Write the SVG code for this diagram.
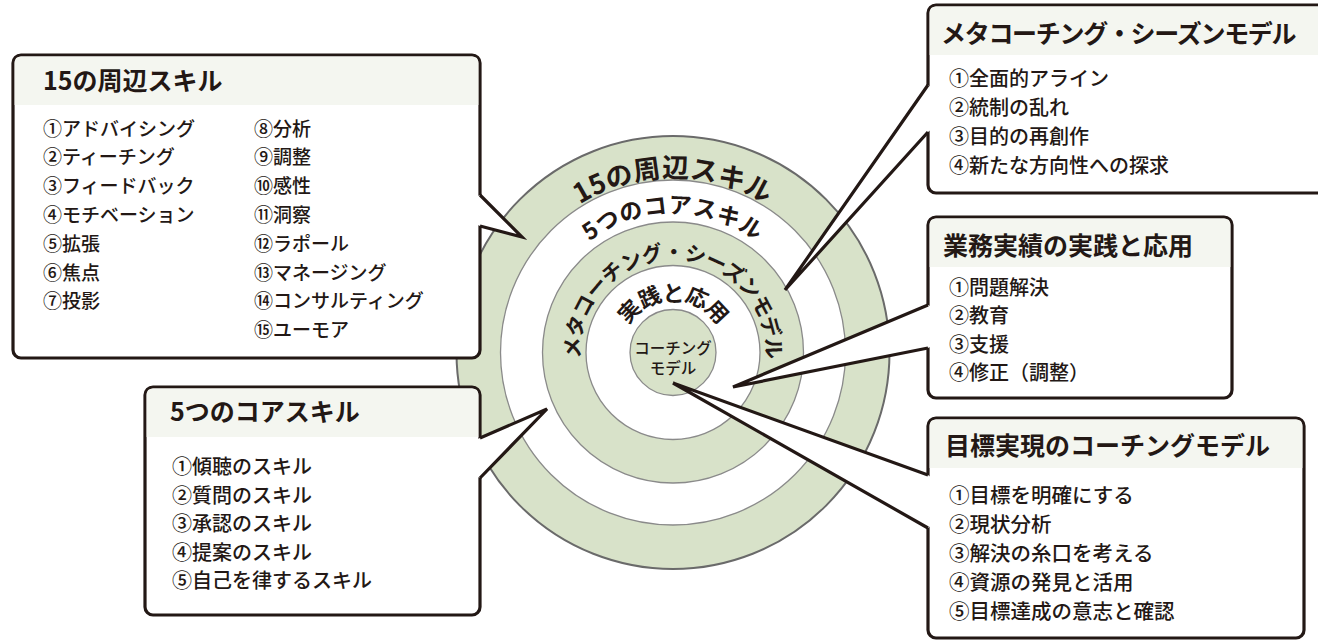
<svg xmlns="http://www.w3.org/2000/svg" xmlns:xlink="http://www.w3.org/1999/xlink" width="1318" height="641" viewBox="0 0 1318 641">
<style>
  .t { font-family: "Noto Sans CJK JP", "Noto Sans", sans-serif; fill: #231815; }
  .hd { font-size: 25px; font-weight: 700; }
  .it { font-size: 20px; font-weight: 500; }
  .ring { font-weight: 700; }
  .g { fill: #d8e2c9; stroke: #8a8a8a; stroke-width: 1.3; }
  .w { fill: #ffffff; stroke: #8a8a8a; stroke-width: 1.3; }
  .box { fill: #ffffff; stroke: #231815; stroke-width: 3.2; }
  .band { fill: #f4f6f0; }
  .tailfill { fill: #ffffff; stroke: none; }
  .tail { fill: none; stroke: #231815; stroke-width: 3.2; stroke-linejoin: miter; }
</style>
<defs>
  <path id="p1" d="M673,527.5 A175,175 0 0 1 673,177.5 A175,175 0 0 1 673,527.5"/>
  <path id="p2" d="M673,491.5 A139,139 0 0 1 673,213.5 A139,139 0 0 1 673,491.5"/>
  <path id="p3" d="M673,445.5 A93,93 0 0 1 673,259.5 A93,93 0 0 1 673,445.5"/>
  <path id="p4" d="M673,404.5 A52,52 0 0 1 673,300.5 A52,52 0 0 1 673,404.5"/>
</defs>
<rect width="1318" height="641" fill="#ffffff"/>

<g id="rings">
  <circle cx="673" cy="352.5" r="216.5" class="g" style="stroke:#6a6a6a;stroke-width:2"/>
  <circle cx="673" cy="352.5" r="172.5" class="w"/>
  <circle cx="673" cy="352.5" r="130.5" class="g"/>
  <circle cx="673" cy="352.5" r="87" class="w"/>
  <circle cx="673" cy="352.5" r="43" class="g"/>
  <text class="t ring" font-size="27" letter-spacing="0.3"><textPath href="#p1" xlink:href="#p1" startOffset="50%" text-anchor="middle">15の周辺スキル</textPath></text>
  <text class="t ring" font-size="23" letter-spacing="0.6"><textPath href="#p2" xlink:href="#p2" startOffset="50%" text-anchor="middle">5つのコアスキル</textPath></text>
  <text class="t ring" font-size="21" letter-spacing="-0.7"><textPath href="#p3" xlink:href="#p3" startOffset="50%" text-anchor="middle">メタコーチング・シーズンモデル</textPath></text>
  <text class="t ring" font-size="22" letter-spacing="-0.8"><textPath href="#p4" xlink:href="#p4" startOffset="50%" text-anchor="middle">実践と応用</textPath></text>
</g>

<g id="core">
  <text class="t" font-size="15.5" font-weight="500" x="673" y="354" text-anchor="middle">コーチング</text>
  <text class="t" font-size="15.5" font-weight="500" x="673" y="374" text-anchor="middle">モデル</text>
</g>

<g id="box-15skills">
  <rect x="13" y="55" width="467" height="303" rx="8" class="box"/>
  <path class="band" d="M14.6,105 V63 Q14.6,56.6 21,56.6 H472 Q478.4,56.6 478.4,63 V105 Z"/>
  <text class="t hd" x="43" y="90" font-size="26">15の周辺スキル</text>
  <g class="t" font-size="19" font-weight="500">
    <text x="43" y="135.5">①アドバイシング</text>
    <text x="43" y="164.3">②ティーチング</text>
    <text x="43" y="193.1">③フィードバック</text>
    <text x="43" y="221.9">④モチベーション</text>
    <text x="43" y="250.7">⑤拡張</text>
    <text x="43" y="279.5">⑥焦点</text>
    <text x="43" y="308.3">⑦投影</text>
    <text x="254" y="135.5">⑧分析</text>
    <text x="254" y="164.3">⑨調整</text>
    <text x="254" y="193.1">⑩感性</text>
    <text x="254" y="221.9">⑪洞察</text>
    <text x="254" y="250.7">⑫ラポール</text>
    <text x="254" y="279.5">⑬マネージング</text>
    <text x="254" y="308.3">⑭コンサルティング</text>
    <text x="254" y="337.1">⑮ユーモア</text>
  </g>
</g>

<g id="box-5core">
  <rect x="145" y="387" width="335" height="228" rx="8" class="box"/>
  <path class="band" d="M146.6,437 V395 Q146.6,388.6 153,388.6 H472 Q478.4,388.6 478.4,395 V437 Z"/>
  <text class="t hd" x="170" y="421" font-size="24.5">5つのコアスキル</text>
  <g class="t it">
    <text x="172" y="474">①傾聴のスキル</text>
    <text x="172" y="502.5">②質問のスキル</text>
    <text x="172" y="531">③承認のスキル</text>
    <text x="172" y="559.5">④提案のスキル</text>
    <text x="172" y="588">⑤自己を律するスキル</text>
  </g>
</g>

<g id="box-meta">
  <rect x="928" y="5" width="420" height="188" rx="8" class="box"/>
  <path class="band" d="M929.6,55 V13 Q929.6,6.6 936,6.6 H1340 V55 Z"/>
  <text class="t hd" x="941" y="43" letter-spacing="-1.3">メタコーチング・シーズンモデル</text>
  <g class="t it">
    <text x="949" y="85.6">①全面的アライン</text>
    <text x="949" y="114.6">②統制の乱れ</text>
    <text x="949" y="143.6">③目的の再創作</text>
    <text x="949" y="172.6">④新たな方向性への探求</text>
  </g>
</g>

<g id="box-practice">
  <rect x="928" y="217" width="304" height="181" rx="8" class="box"/>
  <path class="band" d="M929.6,267 V225 Q929.6,218.6 936,218.6 H1224 Q1230.4,218.6 1230.4,225 V267 Z"/>
  <text class="t hd" x="943" y="255" font-size="26">業務実績の実践と応用</text>
  <g class="t it">
    <text x="949" y="294.5">①問題解決</text>
    <text x="949" y="323">②教育</text>
    <text x="949" y="351.5">③支援</text>
    <text x="949" y="380">④修正（調整）</text>
  </g>
</g>

<g id="box-goal">
  <rect x="928" y="418" width="376" height="220" rx="8" class="box"/>
  <path class="band" d="M929.6,468 V426 Q929.6,419.6 936,419.6 H1296 Q1302.4,419.6 1302.4,426 V468 Z"/>
  <text class="t hd" x="945" y="455">目標実現のコーチングモデル</text>
  <g class="t" font-size="20.5" font-weight="500">
    <text x="949" y="502.6">①目標を明確にする</text>
    <text x="949" y="531.8">②現状分析</text>
    <text x="949" y="561">③解決の糸口を考える</text>
    <text x="949" y="590.2">④資源の発見と活用</text>
    <text x="949" y="619.4">⑤目標達成の意志と確認</text>
  </g>
</g>

<g id="connectors">
  <path class="tailfill" d="M476,197 L480,195 L522,237 L480,226 L476,224 Z"/>
  <path class="tail" d="M480,195 L522,237 L480,226"/>
  <path class="tailfill" d="M476,440 L480,438 L547,409 L480,478 L476,476 Z"/>
  <path class="tail" d="M480,438 L547,409 L480,478"/>
  <path class="tailfill" d="M932,88 L928,85 L785,290 L928,132 L932,129 Z"/>
  <path class="tail" d="M928,85 L785,290 L928,132"/>
  <path class="tailfill" d="M932,307 L928,305 L733,387 L928,348 L932,346 Z"/>
  <path class="tail" d="M928,305 L733,387 L928,348"/>
  <path class="tailfill" d="M932,478 L928,475 L673,383 L928,528 L932,525 Z"/>
  <path class="tail" d="M928,475 L673,383 L928,528"/>
</g>
</svg>
